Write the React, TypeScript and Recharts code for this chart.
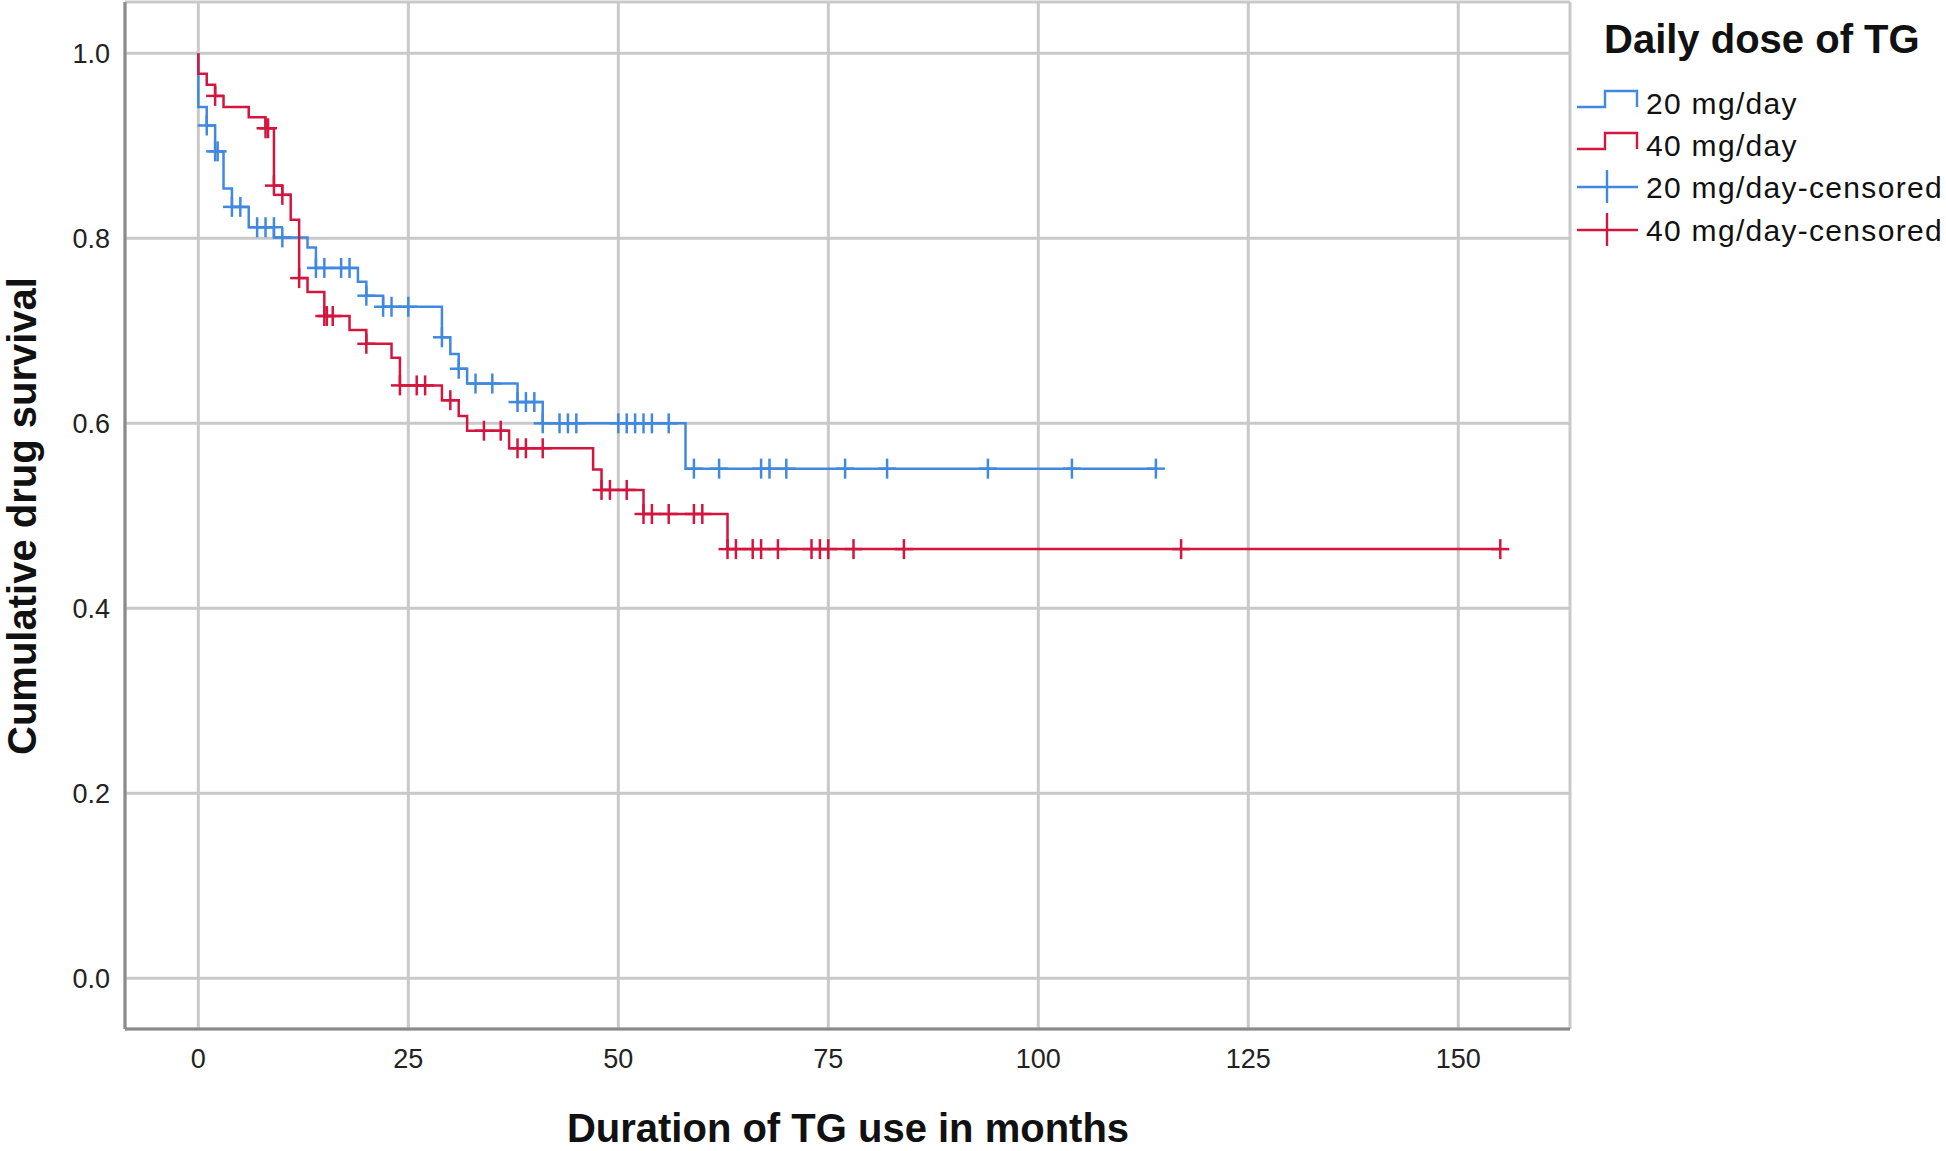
import {
  CartesianGrid,
  ComposedChart,
  Customized,
  Line,
  Scatter,
  XAxis,
  YAxis,
} from "recharts";

const xTicks = [0, 25, 50, 75, 100, 125, 150];
const yTicks = [0, 0.2, 0.4, 0.6, 0.8, 1.0];

// 20 mg/day: event times (months) and survival after each step, last entry = end of follow-up
const blueTimes = [0, 0, 1, 2, 3, 4, 6, 9, 13, 14, 19, 20, 22, 29, 30, 31, 32, 38, 41, 58, 114];
const blueSurv = [1.0, 0.942, 0.922, 0.894, 0.854, 0.834, 0.812, 0.801, 0.79, 0.768, 0.753, 0.738, 0.726, 0.693, 0.675, 0.659, 0.643, 0.623, 0.6, 0.551, 0.551];

const blueCensTimes = [1, 2, 2.3, 4, 5, 7, 8, 9, 10, 14, 15, 17, 18, 20, 22, 23, 25, 29, 31, 33, 35, 38, 39, 40, 41, 43, 44, 45, 50, 51, 52, 53, 54, 56, 59, 62, 67, 68, 70, 77, 82, 94, 104, 114];
const blueCensSurv = [0.922, 0.894, 0.894, 0.834, 0.834, 0.812, 0.812, 0.812, 0.801, 0.768, 0.768, 0.768, 0.768, 0.738, 0.726, 0.726, 0.726, 0.693, 0.659, 0.643, 0.643, 0.623, 0.623, 0.623, 0.6, 0.6, 0.6, 0.6, 0.6, 0.6, 0.6, 0.6, 0.6, 0.6, 0.551, 0.551, 0.551, 0.551, 0.551, 0.551, 0.551, 0.551, 0.551, 0.551];

// 40 mg/day
const redTimes = [0, 0, 1, 2, 3, 6, 8, 9, 10, 11, 12, 13, 15, 18, 20, 23, 24, 29, 31, 32, 37, 47, 48, 53, 63, 155];
const redSurv = [1.0, 0.978, 0.966, 0.954, 0.942, 0.931, 0.919, 0.857, 0.847, 0.82, 0.757, 0.742, 0.716, 0.701, 0.686, 0.671, 0.641, 0.625, 0.608, 0.592, 0.573, 0.55, 0.528, 0.502, 0.464, 0.464];

const redCensTimes = [2, 8, 8.3, 9, 10, 12, 15, 15.3, 16, 20, 24, 26, 27, 30, 34, 36, 38, 39, 41, 48, 49, 51, 53, 54, 56, 59, 60, 63, 64, 66, 67, 69, 73, 74, 75, 78, 84, 117, 155];
const redCensSurv = [0.954, 0.919, 0.919, 0.857, 0.847, 0.757, 0.716, 0.716, 0.716, 0.686, 0.641, 0.641, 0.641, 0.625, 0.592, 0.592, 0.573, 0.573, 0.573, 0.528, 0.528, 0.528, 0.502, 0.502, 0.502, 0.502, 0.502, 0.464, 0.464, 0.464, 0.464, 0.464, 0.464, 0.464, 0.464, 0.464, 0.464, 0.464, 0.464];

const legendTitle = "Daily dose of TG";
const legendLabels = ["20 mg/day", "40 mg/day", "20 mg/day-censored", "40 mg/day-censored"];

const BLUE = "#4189df";
const RED = "#d3163f";
const FONT = "'Liberation Sans', Arial, sans-serif";

const toPoints = (times: number[], surv: number[]) =>
  times.map((t, i) => ({ t, s: surv[i] }));

const blueSteps = toPoints(blueTimes, blueSurv);
const redSteps = toPoints(redTimes, redSurv);
const blueCens = toPoints(blueCensTimes, blueCensSurv);
const redCens = toPoints(redCensTimes, redCensSurv);

function Cross(props: any) {
  const { cx, cy, fill } = props;
  if (cx == null || cy == null) return null;
  return (
    <g stroke={fill} strokeWidth={2.5}>
      <line x1={cx - 9} x2={cx + 9} y1={cy} y2={cy} />
      <line x1={cx} x2={cx} y1={cy - 10} y2={cy + 10} />
    </g>
  );
}

function Decorations() {
  const colors = [BLUE, RED, BLUE, RED];
  const rowY = [114, 156, 198, 241];
  return (
    <g fontFamily={FONT}>
      <text
        x={36}
        y={516}
        transform="rotate(-90 36 516)"
        textAnchor="middle"
        fontSize={40}
        fontWeight="bold"
        fill="#111"
      >
        Cumulative drug survival
      </text>
      <text x={848} y={1142} textAnchor="middle" fontSize={40} fontWeight="bold" fill="#111">
        Duration of TG use in months
      </text>
      <text x={1604} y={53} fontSize={40} fontWeight="bold" fill="#111">
        {legendTitle}
      </text>
      {legendLabels.map((label, i) => {
        const y = rowY[i];
        const c = colors[i];
        return (
          <g key={label}>
            {i < 2 ? (
              <polyline
                points={`1577,${y - 7} 1605,${y - 7} 1605,${y - 23} 1637,${y - 23} 1637,${y - 7}`}
                fill="none"
                stroke={c}
                strokeWidth={2.4}
              />
            ) : (
              <g stroke={c} strokeWidth={2.4}>
                <line x1={1577} x2={1638} y1={y - 11} y2={y - 11} />
                <line x1={1607} x2={1607} y1={y - 28} y2={y + 5} />
              </g>
            )}
            <text x={1646} y={y} fontSize={30} letterSpacing={1.3} fill="#111">
              {label}
            </text>
          </g>
        );
      })}
    </g>
  );
}

export default function App() {
  return (
    <div style={{ position: "absolute", left: 0, top: 0 }}>
      <ComposedChart
        width={1946}
        height={1151}
        margin={{ top: 2, right: 376, bottom: 62, left: 0 }}
      >
        <CartesianGrid stroke="#c9c9c9" strokeWidth={3} />
        <XAxis
          dataKey="t"
          type="number"
          domain={[-8.73, 163.3]}
          ticks={xTicks}
          allowDataOverflow
          height={60}
          tickLine={false}
          tickSize={0}
          tickMargin={20}
          axisLine={{ stroke: "#8a8a8a", strokeWidth: 3 }}
          tick={{ fill: "#222", fontSize: 27, fontFamily: FONT }}
        />
        <YAxis
          type="number"
          domain={[-0.0548, 1.0555]}
          ticks={yTicks}
          allowDataOverflow
          width={125}
          tickLine={false}
          tickSize={0}
          tickMargin={15}
          tickFormatter={(v) => Number(v).toFixed(1)}
          axisLine={{ stroke: "#8a8a8a", strokeWidth: 3 }}
          tick={{ fill: "#222", fontSize: 27, fontFamily: FONT }}
        />
        <Line
          data={blueSteps}
          dataKey="s"
          type="stepAfter"
          stroke={BLUE}
          strokeWidth={2.5}
          dot={false}
          activeDot={false}
          isAnimationActive={false}
        />
        <Line
          data={redSteps}
          dataKey="s"
          type="stepAfter"
          stroke={RED}
          strokeWidth={2.5}
          dot={false}
          activeDot={false}
          isAnimationActive={false}
        />
        <Scatter data={blueCens} dataKey="s" fill={BLUE} shape={Cross} isAnimationActive={false} />
        <Scatter data={redCens} dataKey="s" fill={RED} shape={Cross} isAnimationActive={false} />
        <Customized component={Decorations} />
      </ComposedChart>
    </div>
  );
}
